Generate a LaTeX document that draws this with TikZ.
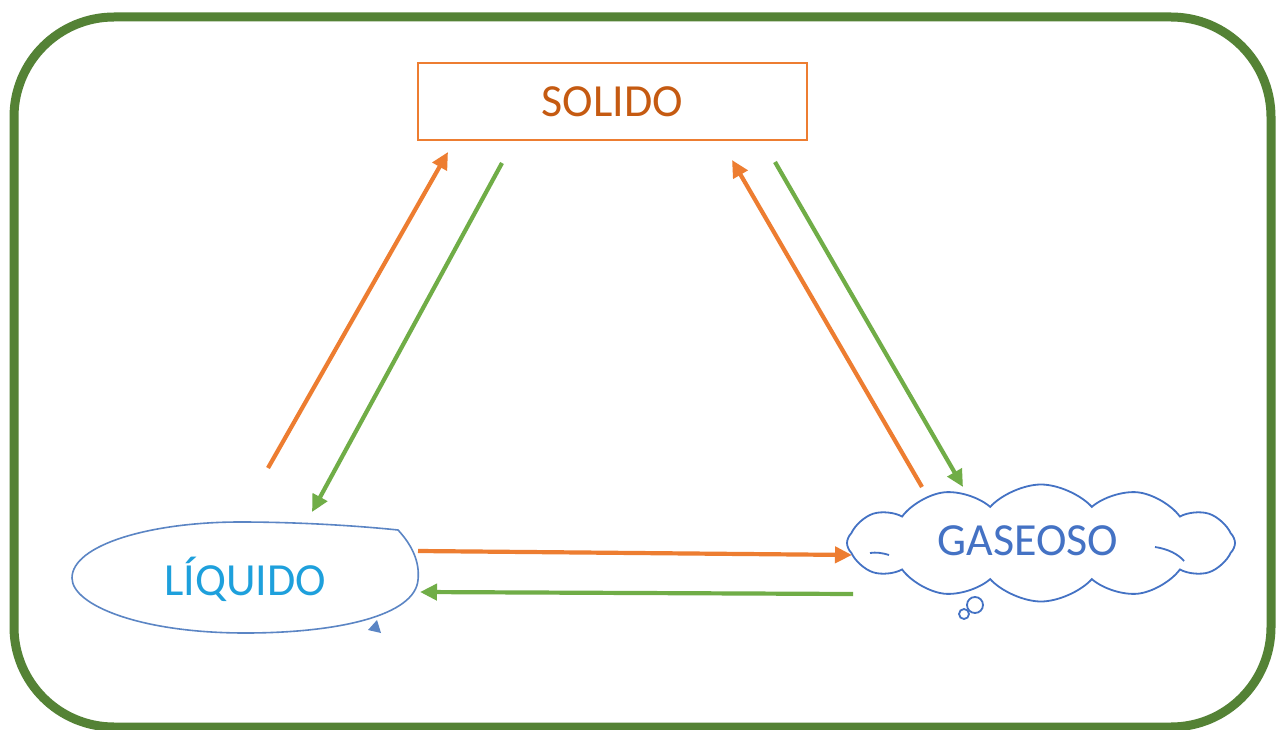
\documentclass[tikz,border=0pt]{standalone}
\usepackage{fontspec}
\setmainfont{Carlito}
\usetikzlibrary{arrows.meta,shapes.symbols}
\definecolor{framegreen}{HTML}{548235}
\definecolor{arrgreen}{HTML}{70AD47}
\definecolor{arrorange}{HTML}{ED7D31}
\definecolor{soltext}{HTML}{C55A11}
\definecolor{liqline}{HTML}{5B85C4}
\definecolor{liqtext}{HTML}{1EA0DC}
\definecolor{gasblue}{HTML}{4472C4}
\tikzset{
  arrow/.style={line width=4.2pt,-{Triangle[length=17pt,width=16pt]}},
  orangearrow/.style={arrow,draw=arrorange,arrorange},
  greenarrow/.style={arrow,draw=arrgreen,arrgreen},
  label/.style={font=\fontsize{46}{50}\selectfont,inner sep=0pt,anchor=base}
}
\begin{document}
\begin{tikzpicture}[x=1pt,y=-1pt]
\useasboundingbox (0,0) rectangle (1279,730);
\fill[white] (0,0) rectangle (1279,730);
% frame
\draw[framegreen,line width=9pt,rounded corners=100pt] (14,17) rectangle (1271,727);
% SOLIDO box
\node[draw=arrorange,line width=2pt,minimum width=389pt,minimum height=77pt,inner sep=0pt,
      text=soltext,font=\fontsize{46}{50}\selectfont,text height=30pt,text depth=0pt] (sol) at (612.5,101.5) {SOLIDO};
% LIQUIDO shape
\draw[liqline,line width=1.6pt] (398,530) .. controls (412,545) and (420,562) .. (418,580)
  .. controls (415,615) and (340,633) .. (245,633)
  .. controls (140,633) and (72,605) .. (72,578)
  .. controls (72,545) and (150,522) .. (240,522)
  .. controls (300,522) and (360,526) .. (398,530) -- cycle;
\fill[liqline] (368,630) -- (377,620) -- (381,633) -- cycle;
\node[label,text=liqtext] (liq) at (245,595) {LÍQUIDO};
% GASEOSO cloud
\node[cloud,draw=gasblue,line width=1.8pt,cloud puffs=12,cloud puff arc=95,aspect=3.4,minimum width=388pt,minimum height=117pt,inner sep=0pt] (cloudshape) at (1041,543) {};
\draw[gasblue,line width=1.8pt] (1155,547) .. controls (1168,549) and (1178,554) .. (1184,561);
\draw[gasblue,line width=1.8pt] (870,553) .. controls (876,552) and (883,553) .. (889,555);
\draw[gasblue,line width=1.8pt] (975,605) circle (8pt);
\draw[gasblue,line width=1.8pt] (964,614) circle (5pt);
\node[label,text=gasblue] (gas) at (1028,555) {GASEOSO};
% arrow end points
\coordinate (a1s) at (268,468); \coordinate (a1e) at (448,152);
\coordinate (a2s) at (502,163); \coordinate (a2e) at (312,512);
\coordinate (a3s) at (922,487); \coordinate (a3e) at (732,160);
\coordinate (a4s) at (775,162); \coordinate (a4e) at (963,487);
\coordinate (a5s) at (418,551); \coordinate (a5e) at (852,555);
\coordinate (a6s) at (853,594); \coordinate (a6e) at (420,592);
\draw[orangearrow] (a1s) -- (a1e);
\draw[greenarrow] (a2s) -- (a2e);
\draw[orangearrow] (a3s) -- (a3e);
\draw[greenarrow] (a4s) -- (a4e);
\draw[orangearrow] (a5s) -- (a5e);
\draw[greenarrow] (a6s) -- (a6e);
\end{tikzpicture}
\end{document}
